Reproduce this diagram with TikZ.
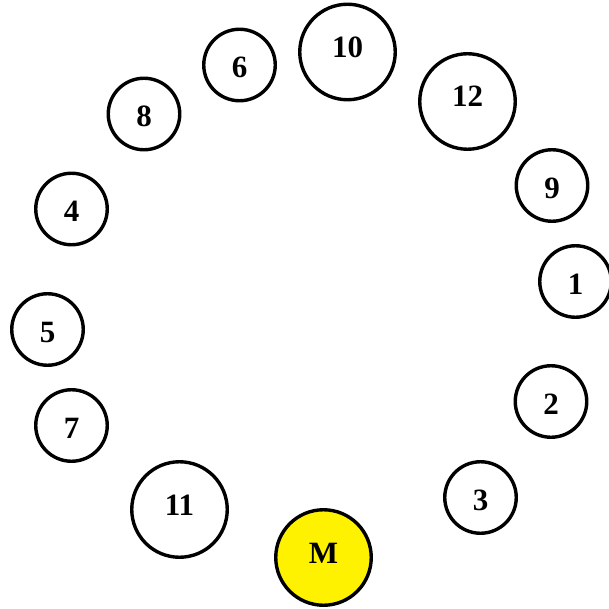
\documentclass[tikz,border=0pt]{standalone}
\usepackage{fontspec}
\setmainfont{Liberation Serif}
\usepackage{tikz}

\begin{document}
\begin{tikzpicture}[x=1pt, y=-1pt,
    seat/.style={draw, circle, line width=3.4pt, inner sep=0pt, font=\fontsize{31}{31}\selectfont\bfseries},
    small/.style={seat, minimum size=71.5pt, text height=26pt, text depth=0pt},
    big/.style={seat, minimum size=95.5pt, text height=21pt, text depth=10pt}
]
\useasboundingbox (0,0) rectangle (608,609);
\node[big] (n10) at (347.5, 52) {10};
\node[big] (n12) at (467.5, 101.5) {12};
\node[small] (n6) at (239.5, 65) {6};
\node[small] (n8) at (144, 114) {8};
\node[small] (n9) at (552, 185.5) {9};
\node[small] (n4) at (71.5, 209) {4};
\node[small] (n1) at (575.5, 281.5) {1};
\node[small] (n5) at (47.5, 329.5) {5};
\node[small] (n2) at (551, 401.5) {2};
\node[small] (n7) at (71.5, 425.5) {7};
\node[small] (n3) at (480.5, 497.5) {3};
\node[big] (n11) at (179.5, 509.5) {11};
\node[big, fill=yellow] (m) at (323.5, 557.5) {M};
\end{tikzpicture}
\end{document}
